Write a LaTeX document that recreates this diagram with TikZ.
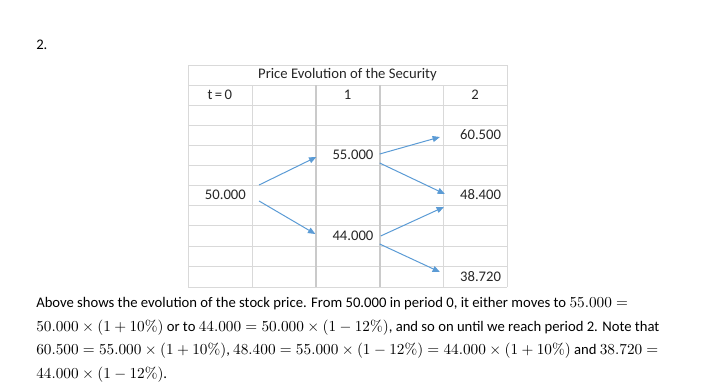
\RequirePackage{fix-cm}
\documentclass[tikz,border=0pt]{standalone}
\usepackage[no-math]{fontspec}
\setmainfont{Carlito}
\usepackage{xcolor}
\usetikzlibrary{arrows.meta}
\DeclareMathSizes{11}{11.45}{8.2}{6}

\definecolor{gridgray}{HTML}{D9D9D9}
\definecolor{colgray}{HTML}{CACACA}
\definecolor{arrowblue}{HTML}{5B9BD5}
\tikzset{
  cell/.style={minimum width=47.85pt, minimum height=15pt, inner xsep=4.5pt, inner ysep=0pt,
    text width=38.85pt, align=right, text=black!85, font=\fontsize{11}{13}\selectfont},
  head/.style={cell, align=center},
  branch/.style={arrowblue, line width=0.75pt, -{Triangle[length=5.5pt,width=4.5pt]}},
}

\begin{document}
\begin{tikzpicture}[x=0.75pt, y=-0.75pt]
  \useasboundingbox (0,0) rectangle (702,386);

  % Question number
  \node[anchor=west, inner sep=0pt, font=\fontsize{11}{13}\selectfont] (num) at (36,45) {2.};

  % Grid of the sheet
  \foreach \y in {65,85,105,125,145,165,185,205,225,246,266,287}
    \draw[gridgray, line width=0.75pt] (188,\y) -- (507,\y);
  \draw[gridgray, line width=0.75pt] (188,65) -- (188,287);
  \draw[gridgray, line width=0.75pt] (507,65) -- (507,287);
  \foreach \x in {252,443}
    \draw[gridgray, line width=0.75pt] (\x,85) -- (\x,287);
  \foreach \x in {316,380}
    \draw[colgray, line width=1.5pt] (\x,85) -- (\x,287);

  % Header
  \node[text=black!85, font=\fontsize{11}{13}\selectfont] (title) at (347.5,75) {Price Evolution of the Security};
  \node[head] (h0) at (219.9,95) {t\,=\,0};
  \node[head] (h1) at (347.5,95) {1};
  \node[head] (h2) at (475.1,95) {2};

  % Prices
  \node[cell] (uu) at (475.1,135) {60.500};
  \node[cell] (u) at (347.5,155) {55.000};
  \node[cell] (s0) at (219.9,195) {50.000};
  \node[cell] (ud) at (475.1,195) {48.400};
  \node[cell] (d) at (347.5,235.5) {44.000};
  \node[cell] (dd) at (475.1,276.5) {38.720};

  % Up and down moves
  \draw[branch] ([shift={(7,-10)}]s0.east) -- ([shift={(1,2)}]u.west);
  \draw[branch] ([shift={(7,6)}]s0.east) -- ([shift={(0,-1.5)}]d.west);
  \draw[branch] ([shift={(0,-1)}]u.east) -- ([shift={(-3,2)}]uu.west);
  \draw[branch] ([shift={(0,8)}]u.east) -- ([shift={(2,-1)}]ud.west);
  \draw[branch] ([shift={(1,0.5)}]d.east) -- ([shift={(1,12)}]ud.west);
  \draw[branch] ([shift={(0,8.5)}]d.east) -- ([shift={(-3,-4.5)}]dd.west);

  % Explanation
  \node[anchor=north west, inner sep=0pt, align=left, font=\fontsize{11}{17.8}\selectfont] (txt) at (36,297)
    {Above shows the evolution of the stock price. From 50.000 in period 0, it either moves to $55.000 =$\\
     $50.000 \times (1 + 10\%)$ or to $44.000 = 50.000 \times (1 - 12\%)$, and so on until we reach period 2. Note that\\
     $60.500 = 55.000 \times (1 + 10\%)$, $48.400 = 55.000 \times (1 - 12\%) = 44.000 \times (1 + 10\%)$ and $38.720 =$\\
     $44.000 \times (1 - 12\%)$.};
\end{tikzpicture}
\end{document}
